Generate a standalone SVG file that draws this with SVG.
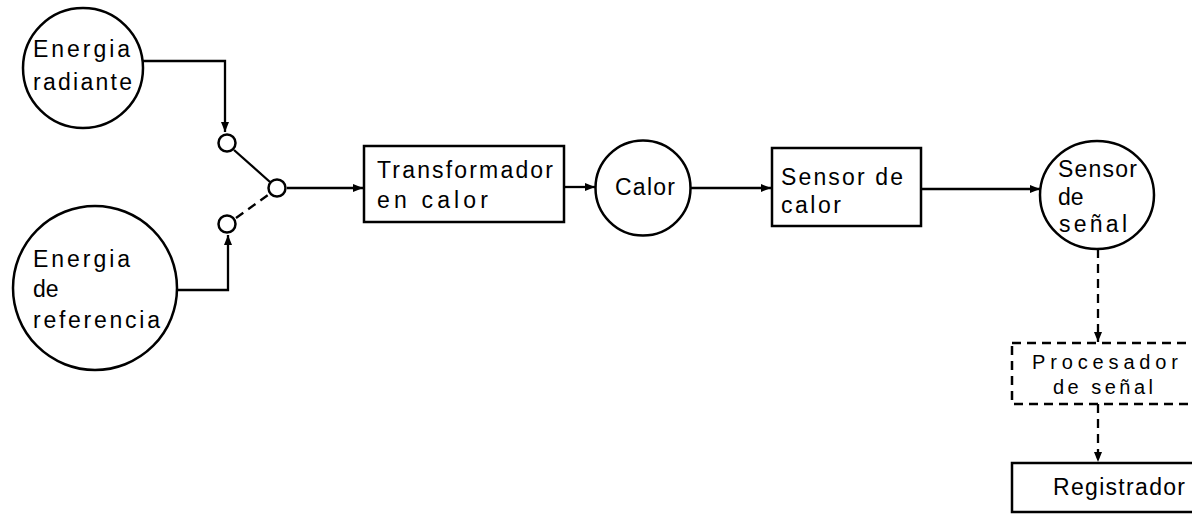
<svg xmlns="http://www.w3.org/2000/svg" width="1192" height="514" viewBox="0 0 1192 514">
<defs>
<style>
.n{fill:none;stroke:#000;stroke-width:2.5}
.t{font-family:"Liberation Sans",Arial,sans-serif;font-size:23px;fill:#000}
.s{font-size:20px}
.c{fill:none;stroke:#000;stroke-width:2.3}
.d{stroke-dasharray:9 6}
</style>
<marker id="a" viewBox="0 0 10 8" refX="10" refY="4" markerWidth="10" markerHeight="8" markerUnits="userSpaceOnUse" orient="auto">
<path d="M0,0 L10,4 L0,8 z" fill="#000"/>
</marker>
</defs>
<rect width="1192" height="514" fill="#fff"/>
<g id="connectors">
<polyline class="c" points="143,61 225,61 225,132" marker-end="url(#a)"/>
<polyline class="c" points="177,290 228,290 228,235" marker-end="url(#a)"/>
<line class="c" x1="234" y1="150" x2="270" y2="182"/>
<line class="c d" x1="236" y1="218" x2="268" y2="195"/>
<line class="c" x1="287" y1="188" x2="363" y2="188" marker-end="url(#a)"/>
<line class="c" x1="564" y1="187" x2="595" y2="187" marker-end="url(#a)"/>
<line class="c" x1="691" y1="188" x2="771" y2="188" marker-end="url(#a)"/>
<line class="c" x1="921" y1="189" x2="1040" y2="189" marker-end="url(#a)"/>
<line class="c d" x1="1098" y1="249" x2="1098" y2="342" marker-end="url(#a)"/>
<line class="c d" x1="1098" y1="404" x2="1098" y2="462" marker-end="url(#a)"/>
</g>
<g id="energia-radiante">
<circle class="n" cx="83" cy="68" r="60"/>
<text class="t" x="33" y="57" textLength="97" lengthAdjust="spacing">Energia</text>
<text class="t" x="33" y="90" textLength="99" lengthAdjust="spacing">radiante</text>
</g>
<g id="energia-referencia">
<circle class="n" cx="95" cy="288" r="82"/>
<text class="t" x="33" y="267" textLength="97" lengthAdjust="spacing">Energia</text>
<text class="t" x="33" y="297">de</text>
<text class="t" x="33" y="328" textLength="127" lengthAdjust="spacing">referencia</text>
</g>
<g id="switch">
<circle class="n" cx="227" cy="143" r="8.5"/>
<circle class="n" cx="277" cy="188" r="8.5"/>
<circle class="n" cx="227" cy="224" r="8.5"/>
</g>
<g id="transformador">
<rect class="n" x="364" y="146" width="200" height="76"/>
<text class="t" x="377" y="178" textLength="176" lengthAdjust="spacing">Transformador</text>
<text class="t" x="377" y="208" textLength="111" lengthAdjust="spacing">en calor</text>
</g>
<g id="calor">
<circle class="n" cx="643" cy="188" r="47.5"/>
<text class="t" x="615" y="195" textLength="60" lengthAdjust="spacing">Calor</text>
</g>
<g id="sensor-calor">
<rect class="n" x="772" y="148" width="149" height="78"/>
<text class="t" x="781" y="185" textLength="122" lengthAdjust="spacing">Sensor de</text>
<text class="t" x="781" y="213" textLength="60" lengthAdjust="spacing">calor</text>
</g>
<g id="sensor-senal">
<ellipse class="n" cx="1097" cy="195" rx="57" ry="54"/>
<text class="t" x="1058" y="177" textLength="79" lengthAdjust="spacing">Sensor</text>
<text class="t" x="1058" y="205">de</text>
<text class="t" x="1059" y="232" textLength="68" lengthAdjust="spacing">señal</text>
</g>
<g id="procesador">
<rect class="n d" x="1012" y="343" width="200" height="61"/>
<text class="t s" x="1032" y="369" textLength="146" lengthAdjust="spacing">Procesador</text>
<text class="t s" x="1053" y="394" textLength="100" lengthAdjust="spacing">de señal</text>
</g>
<g id="registrador">
<rect class="n" x="1012" y="463" width="200" height="49"/>
<text class="t" x="1053" y="495" textLength="132" lengthAdjust="spacing">Registrador</text>
</g>
</svg>
